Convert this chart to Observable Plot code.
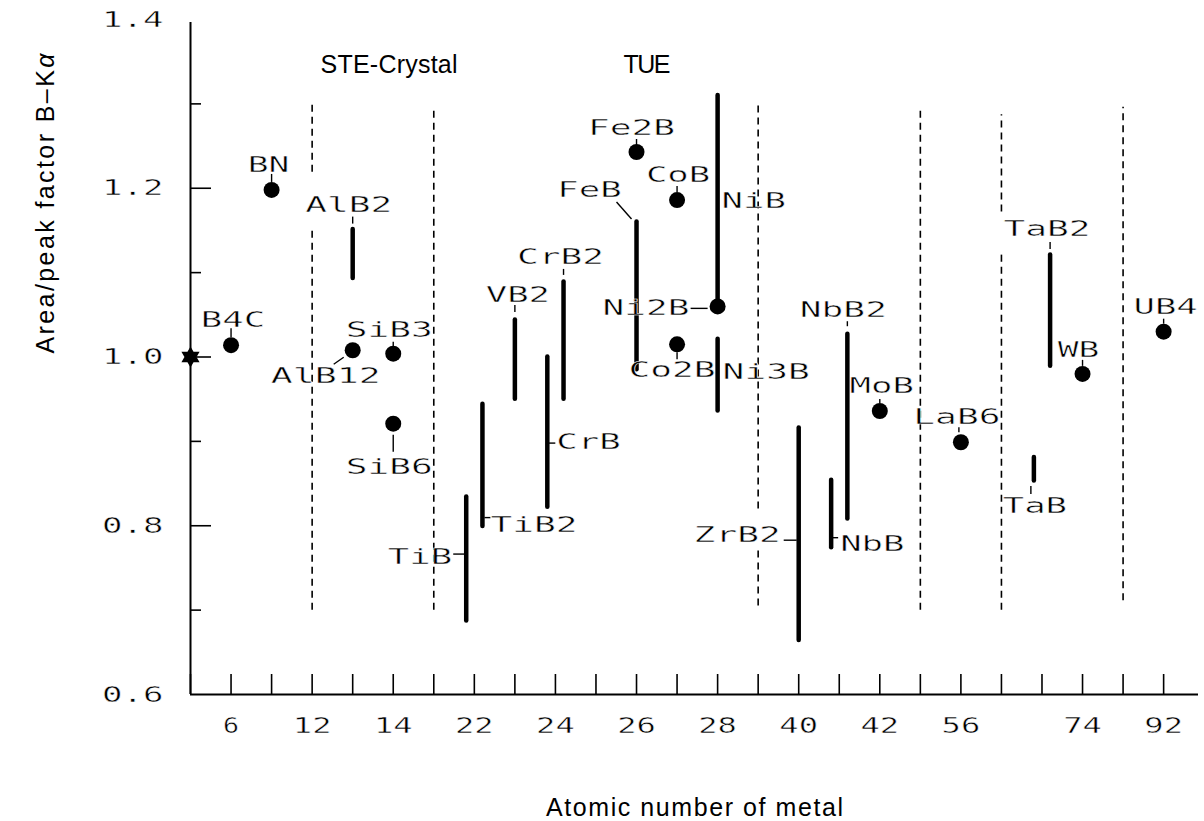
<!DOCTYPE html>
<html><head><meta charset="utf-8">
<script src="https://cdn.jsdelivr.net/npm/d3@7"></script>
<script src="https://cdn.jsdelivr.net/npm/@observablehq/plot@0.6"></script>
<style>
html,body{margin:0;padding:0;background:#fff;}
#chart{width:1204px;height:821px;}
</style></head><body><div id="chart"></div>
<script>
// ---------- DATA ----------
// x axis: one column per element; index -> atomic-number tick label
const tickIndex = d3.range(0, 25);
const labeledIndex = [1, 3, 5, 7, 9, 11, 13, 15, 17, 19, 22, 24];
const tickLabels = ["6", "12", "14", "22", "24", "26", "28", "40", "42", "56", "74", "92"];
const yTickValues = [0.6, 0.8, 1.0, 1.2, 1.4];
const yMajorTicks = [0.8, 1.0, 1.2];
const yMinorTicks = [0.7, 0.9, 1.1, 1.3];

// reference: pure boron
const refX = [0];
const refY = [1.0];

// compounds measured as single values
const pointNames = ["B4C", "BN", "AlB12", "SiB3", "SiB6", "Fe2B", "CoB", "Co2B", "Ni2B", "MoB", "LaB6", "WB", "UB4"];
const pointX = [1, 2, 4, 5, 5, 11, 12, 12, 13, 17, 19, 22, 24];
const pointY = [1.014, 1.198, 1.008, 1.004, 0.921, 1.243, 1.186, 1.015, 1.060, 0.936, 0.899, 0.980, 1.030];

// compounds measured as ranges
const rangeNames = ["AlB2", "TiB", "TiB2", "VB2", "CrB", "CrB2", "FeB", "NiB", "Ni3B", "ZrB2", "NbB", "NbB2", "TaB", "TaB2"];
const rangeX = [4, 6.8, 7.2, 8, 8.8, 9.2, 11, 13, 13, 15, 15.8, 16.2, 20.8, 21.2];
const rangeLow = [1.093, 0.687, 0.799, 0.950, 0.822, 0.950, 0.985, 1.060, 0.936, 0.664, 0.774, 0.808, 0.853, 0.989];
const rangeHigh = [1.151, 0.834, 0.944, 1.044, 1.000, 1.089, 1.160, 1.310, 1.021, 0.916, 0.854, 1.027, 0.881, 1.121];

// dashed group separators (pieces)
const sepX = [3, 3, 6, 14, 14, 18, 20, 20, 23];
const sepTop = [1.300, 1.151, 1.295, 1.302, 0.770, 1.295, 1.287, 1.121, 1.296];
const sepBottom = [1.219, 0.700, 0.700, 0.820, 0.705, 0.700, 1.172, 0.700, 0.711];

const headerTexts = ["STE-Crystal", "TUE"];
const xTitle = "Atomic number of metal";
const yTitle = "Area/peak factor B–Kα";

// ---------- LAYOUT ----------
const W = 1204, H = 821;
const margin = {left: 190, right: 6, top: 19, bottom: 127};
const xMax = 24.86, yMin = 0.6, yMax = 1.4;
const kx = (W - margin.left - margin.right) / xMax;
const ky = (H - margin.top - margin.bottom) / (yMax - yMin);

// label placement: [name, reference, dx px, dy px, anchor, leader offsets px]
const labelLayout = [
  ["B4C", "pt", 2, -25, "middle", [0, -8, 0, -17]],
  ["BN", "pt", -3, -25, "middle", [0, -8, 0, -16]],
  ["AlB2", "top", -4, -25, "middle", [0, -6, 0, -13]],
  ["AlB12", "pt", -27, 26, "middle", [-19, 14, -9, 7]],
  ["SiB3", "pt", -4, -24, "middle", [0, -7, 0, -12]],
  ["SiB6", "pt", -4, 43, "middle", [0, 11, 0, 28]],
  ["TiB", "mid", -14, -2, "end", [-13, -5, -2, -5]],
  ["TiB2", "bottom", 8, -2, "start", [2, -9, 8, -9]],
  ["VB2", "top", 3, -25, "middle", [0, -8, 0, -15]],
  ["CrB", "mid", 9, 10, "start", [1, 11, 8, 11]],
  ["CrB2", "top", -3, -25, "middle", [0, -7, 0, -13]],
  ["FeB", "top", -47, -32, "middle", [-20, -20, -5, -3]],
  ["Fe2B", "pt", -5, -24, "middle", [0, -7, 0, -13]],
  ["CoB", "pt", 1, -25, "middle", [0, -8, 0, -14]],
  ["Co2B", "pt", -5, 26, "middle", [0, 8, 0, 15]],
  ["NiB", "mid", 4, 0, "start", null],
  ["Ni2B", "pt", -28, 2, "end", [-27, 2, -10, 2]],
  ["Ni3B", "top", 5, 33, "start", null],
  ["ZrB2", "mid", -18, 1, "end", [-15, 6, -2, 6]],
  ["NbB", "bottom", 9, -4, "start", [1, -10, 7, -10]],
  ["NbB2", "top", -4, -24, "middle", [0, -8, 0, -13]],
  ["MoB", "pt", 2, -25, "middle", [0, -8, 0, -12]],
  ["LaB6", "pt", -4, -25, "middle", [-2, -10, -2, -15]],
  ["TaB", "bottom", 1, 25, "middle", [-3, 5, -3, 13]],
  ["TaB2", "top", -3, -26, "middle", [0, -6, 0, -13]],
  ["WB", "pt", -4, -24, "middle", [0, -8, 0, -14]],
  ["UB4", "pt", 2, -25, "middle", [0, -8, 0, -13]]
];
const headerDx = [198.5, 456.5];
const headerDy = 53;
const sansFont = "Liberation Sans, Arial, sans-serif";

// ---------- BUILD ----------
const pts = pointNames.map((name, i) => ({name, x: pointX[i], y: pointY[i]}));
const ranges = rangeNames.map((name, i) => ({name, x: rangeX[i], y1: rangeLow[i], y2: rangeHigh[i]}));
const seps = sepX.map((x, i) => ({x, y1: sepBottom[i], y2: sepTop[i]}));
const refs = refX.map((x, i) => ({x, y: refY[i]}));

function refPoint(name, ref) {
  const p = pts.find(d => d.name === name);
  if (p) return [p.x, p.y];
  const r = ranges.find(d => d.name === name);
  if (ref === "top") return [r.x, r.y2];
  if (ref === "bottom") return [r.x, r.y1];
  return [r.x, (r.y1 + r.y2) / 2];
}
const labels = labelLayout.map(([name, ref, dx, dy, anchor, ld]) => {
  const [x0, y0] = refPoint(name, ref);
  return {
    name, anchor,
    x: x0 + dx / kx, y: y0 - dy / ky,
    leader: ld && {x1: x0 + ld[0] / kx, y1: y0 - ld[1] / ky, x2: x0 + ld[2] / kx, y2: y0 - ld[3] / ky}
  };
});

const hexagram = {
  draw(ctx, size) {
    const R = Math.sqrt(size / Math.PI);
    for (const a0 of [-90, 90]) {
      for (let k = 0; k < 3; k++) {
        const a = (a0 + k * 120) * Math.PI / 180;
        const px = R * Math.cos(a), py = R * Math.sin(a);
        if (k === 0) ctx.moveTo(px, py); else ctx.lineTo(px, py);
      }
      ctx.closePath();
    }
  }
};

const labelFor = (anchor) => Plot.text(labels.filter(d => d.anchor === anchor), {
  x: "x", y: "y", text: "name", textAnchor: anchor, lineAnchor: "middle",
  fontSize: 22, fill: "black"
});

const headerMark = (i) => Plot.text([headerTexts[i]], {
  frameAnchor: "top-left", text: d => d, dx: headerDx[i], dy: headerDy,
  textAnchor: "middle", lineAnchor: "bottom", fontFamily: sansFont, fontSize: 25
});

const chart = Plot.plot({
  width: W, height: H,
  marginLeft: margin.left, marginRight: margin.right, marginTop: margin.top, marginBottom: margin.bottom,
  x: {domain: [0, xMax]},
  y: {domain: [yMin, yMax]},
  style: {fontFamily: "'DejaVu Sans Mono', monospace", fontSize: "22px", background: "white", color: "black"},
  marks: [
    Plot.ruleX(seps, {x: "x", y1: "y1", y2: "y2", stroke: "black", strokeWidth: 1.6, strokeDasharray: "7,5"}),
    Plot.ruleY([yMin], {x1: 0, x2: xMax, stroke: "black", strokeWidth: 2}),
    Plot.ruleX([0], {y1: yMin, y2: yMax - 3 / ky, stroke: "black", strokeWidth: 2}),
    Plot.ruleX(tickIndex, {x: d => d, y1: yMin, y2: yMin + 20 / ky, stroke: "black", strokeWidth: 1.6}),
    Plot.ruleY(yMajorTicks, {y: d => d, x1: 0, x2: 21 / kx, stroke: "black", strokeWidth: 1.6}),
    Plot.ruleY(yMinorTicks, {y: d => d, x1: 0, x2: 11 / kx, stroke: "black", strokeWidth: 1.6}),
    Plot.ruleX(ranges, {x: "x", y1: "y1", y2: "y2", stroke: "black", strokeWidth: 4.5, strokeLinecap: "round"}),
    Plot.link(labels.filter(d => d.leader), {
      x1: d => d.leader.x1, y1: d => d.leader.y1, x2: d => d.leader.x2, y2: d => d.leader.y2,
      stroke: "black", strokeWidth: 1.4
    }),
    Plot.dot(pts, {x: "x", y: "y", r: 8, fill: "black", stroke: null}),
    Plot.dot(refs, {x: "x", y: "y", r: 10.5, symbol: hexagram, fill: "black", stroke: null}),
    labelFor("middle"), labelFor("start"), labelFor("end"),
    Plot.axisX({ticks: labeledIndex, tickFormat: d => tickLabels[labeledIndex.indexOf(d)],
      tickSize: 0, tickPadding: 23, label: null}),
    Plot.axisY({ticks: yTickValues, tickFormat: d3.format(".1f"), tickSize: 0, tickPadding: 27, label: null}),
    headerMark(0), headerMark(1),
    Plot.text([xTitle], {frameAnchor: "bottom", text: d => d, dy: 121, lineAnchor: "bottom",
      fontFamily: sansFont, fontSize: 25}),
    Plot.text([yTitle], {frameAnchor: "left", text: d => d, dx: -137, dy: -3.5, rotate: -90, lineAnchor: "bottom",
      fontFamily: sansFont, fontSize: 25})
  ]
});

document.getElementById("chart").appendChild(chart);

// ---------- POST-PROCESS TYPOGRAPHY (identify texts by content) ----------
const allTexts = Array.from(chart.querySelectorAll("text"));
const adv = 22.7;
const compoundSet = new Set([...pointNames, ...rangeNames]);
const yTickSet = new Set(yTickValues.map(d3.format(".1f")));
const xTickSet = new Set(tickLabels);
allTexts.forEach(t => {
  const s = t.textContent;
  const n = s.length;
  let len = null, adjust = "spacingAndGlyphs", thin = false;
  if (compoundSet.has(s)) { len = (n - 1) * adv + 19; thin = true; }
  else if (yTickSet.has(s) || xTickSet.has(s)) { len = (n - 1) * adv + 16; thin = true; }
  else if (s === headerTexts[0]) { len = 137; adjust = "spacing"; }
  else if (s === headerTexts[1]) { len = 47; adjust = "spacing"; }
  else if (s === xTitle) { len = 297; adjust = "spacing"; }
  else if (s === yTitle) {
    t.textContent = "";
    t.append("Area/peak factor B–K");
    const ts = document.createElementNS("http://www.w3.org/2000/svg", "tspan");
    ts.setAttribute("font-style", "italic");
    ts.textContent = "α";
    t.append(ts);
    len = 300; adjust = "spacing";
  }
  if (len != null) {
    t.setAttribute("textLength", len);
    t.setAttribute("lengthAdjust", adjust);
  }
  if (thin) {
    // plotter-style lettering: slightly thin the stretched glyphs with a white edge
    t.setAttribute("stroke", "white");
    t.setAttribute("stroke-width", 0.45);
    t.setAttribute("paint-order", "fill");
  }
});
</script></body></html>
